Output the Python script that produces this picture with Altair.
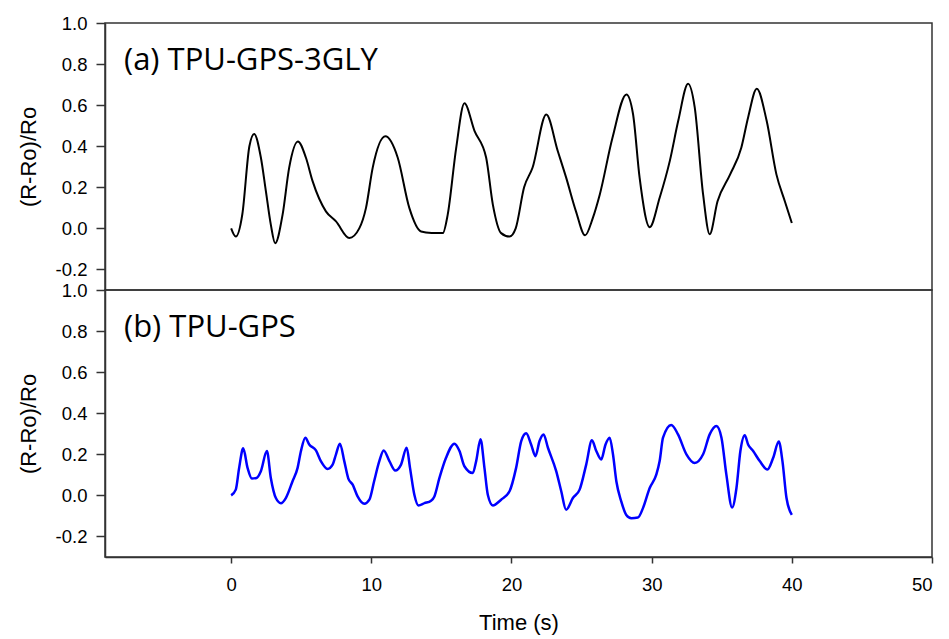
import altair as alt
import pandas as pd

# ---- data ----
panel_labels = ["(a) TPU-GPS-3GLY", "(b) TPU-GPS"]

t_a = [0.0, 0.33, 0.8, 1.3, 1.64, 2.12, 2.48, 2.83, 3.14, 3.67, 4.14, 4.76, 5.33, 5.81, 6.76,
       7.48, 8.43, 9.14, 9.62, 10.1, 11.0, 11.88, 12.71, 13.55, 14.3, 15.1, 15.45, 16.05, 16.64,
       17.36, 18.19, 18.67, 19.26, 19.86, 20.3, 20.9, 21.5, 22.48, 23.3, 23.9, 24.6, 25.25, 25.8,
       26.3, 27.2, 28.2, 28.67, 29.14, 29.86, 30.57, 31.3, 31.9, 32.6, 33.07, 33.67, 34.14, 34.7,
       35.6, 36.4, 36.88, 37.5, 38.2, 38.9, 39.5, 40.0]
r_a = [0.0, -0.04, 0.07, 0.40, 0.46, 0.345, 0.18, 0.018, -0.072, 0.067, 0.296, 0.423, 0.345, 0.23,
       0.083, 0.034, -0.047, 0.0, 0.1, 0.296, 0.448, 0.345, 0.1, -0.015, -0.022, -0.023, 0.067,
       0.39, 0.609, 0.475, 0.345, 0.116, -0.023, -0.04, 0.0, 0.2, 0.295, 0.554, 0.377, 0.247,
       0.083, -0.034, 0.05, 0.165, 0.44, 0.652, 0.557, 0.247, 0.006, 0.149, 0.33, 0.525, 0.704,
       0.59, 0.165, -0.028, 0.132, 0.263, 0.394, 0.54, 0.68, 0.525, 0.263, 0.132, 0.026]

t_b = [0.0, 0.33, 0.57, 0.86, 1.17, 1.48, 1.81, 2.12, 2.55, 2.83,
       3.19, 3.55, 3.9, 4.38, 4.74, 4.98, 5.29, 5.57, 6.05, 6.4,
       6.88, 7.24, 7.48, 7.76, 8.07, 8.36, 8.67, 9.02, 9.5, 9.86,
       10.2, 10.57, 10.88, 11.29, 11.71, 12.12, 12.52, 12.76, 13.07, 13.36,
       13.79, 14.26, 14.5, 14.86, 15.33, 15.93, 16.29, 16.64, 17.24, 17.48,
       17.79, 18.07, 18.31, 18.67, 19.26, 19.86, 20.33, 20.7, 21.05, 21.4,
       21.71, 22.0, 22.29, 22.6, 23.19, 23.55, 23.9, 24.38, 24.86, 25.33,
       25.74, 26.05, 26.4, 26.71, 27.0, 27.24, 27.48, 27.83, 28.19, 28.55,
       29.02, 29.38, 29.86, 30.33, 30.57, 30.81, 31.4, 31.88, 32.48, 33.07,
       33.67, 34.14, 34.62, 34.98, 35.33, 35.74, 36.05, 36.33, 36.64, 36.88,
       37.24, 37.71, 38.26, 38.67, 39.07, 39.33, 39.62, 40.0]
r_b = [0.0, 0.028, 0.134, 0.229, 0.134, 0.082, 0.085, 0.118, 0.216, 0.085,
       -0.013, -0.038, -0.013, 0.069, 0.134, 0.216, 0.281, 0.248, 0.219, 0.167,
       0.129, 0.15, 0.2, 0.252, 0.167, 0.082, 0.052, -0.005, -0.041, -0.021,
       0.069, 0.167, 0.219, 0.167, 0.121, 0.15, 0.232, 0.134, 0.003, -0.049,
       -0.038, -0.026, -0.005, 0.085, 0.183, 0.252, 0.216, 0.142, 0.109, 0.167,
       0.273, 0.134, 0.003, -0.049, -0.021, 0.02, 0.134, 0.265, 0.302, 0.248,
       0.191, 0.265, 0.297, 0.232, 0.118, 0.02, -0.07, -0.013, 0.028, 0.15,
       0.268, 0.216, 0.175, 0.248, 0.281, 0.2, 0.069, -0.029, -0.095, -0.111,
       -0.108, -0.062, 0.036, 0.101, 0.167, 0.281, 0.343, 0.297, 0.2, 0.158,
       0.2, 0.297, 0.338, 0.281, 0.101, -0.059, 0.036, 0.216, 0.293, 0.248,
       0.216, 0.167, 0.126, 0.183, 0.262, 0.167, -0.013, -0.095]

x_ticks = [0, 10, 20, 30, 40, 50]
y_ticks = [-0.2, 0.0, 0.2, 0.4, 0.6, 0.8, 1.0]
x_domain = [-9, 50]
y_domain = [-0.3, 1.0]

df_a = pd.DataFrame({"t": t_a, "r": r_a})
df_b = pd.DataFrame({"t": t_b, "r": r_b})

W = 827
H_TOP = 267
H_BOT = 267

x_scale = alt.Scale(domain=x_domain, nice=False, zero=False)
y_scale = alt.Scale(domain=y_domain, nice=False, zero=False)

Y_LABEL_EXPR = ("datum.value < 0 ? '-' + format(-datum.value, '.1f') "
                ": format(datum.value, '.1f')")


def y_axis():
    return alt.Axis(values=y_ticks, labelExpr=Y_LABEL_EXPR, title="(R-Ro)/Ro", grid=False,
                    tickSize=9, labelPadding=9, titlePadding=15)


def panel(df, color, label, width_px, height, show_x):
    if show_x:
        xenc = alt.X("t:Q", scale=x_scale,
                     axis=alt.Axis(values=x_ticks, format="d", title="Time (s)", grid=False,
                                   tickSize=6, labelPadding=12, titlePadding=19))
    else:
        xenc = alt.X("t:Q", scale=x_scale, axis=None)
    line = alt.Chart(df).mark_line(color=color, strokeWidth=width_px,
                                   interpolate="monotone").encode(
        x=xenc,
        y=alt.Y("r:Q", scale=y_scale, axis=y_axis()),
    )
    txt = alt.Chart(pd.DataFrame({"label": [label]})).mark_text(
        align="left", baseline="alphabetic", font="Open Sans", fontSize=31, color="#000000"
    ).encode(x=alt.value(19), y=alt.value(47), text="label:N")
    return alt.layer(line, txt).properties(width=W, height=height)


top = panel(df_a, "#000000", panel_labels[0], 2, H_TOP, False)
bottom = panel(df_b, "#0000ff", panel_labels[1], 2.5, H_BOT, True)

chart = alt.vconcat(top, bottom, spacing=0, bounds="flush").properties(
    padding={"left": 8, "top": 5, "right": 4, "bottom": 0}
).configure_view(
    stroke="#333333", strokeWidth=1.5
).configure_axis(
    domainColor="#333333", domainWidth=1.5, tickColor="#333333", tickWidth=1.5,
    labelFont="Liberation Sans", labelFontSize=18.5, labelColor="#000000",
    titleFont="Liberation Sans", titleFontSize=22, titleFontWeight="normal", titleColor="#000000",
)

chart.save("out.html", embed_options={"renderer": "svg", "actions": False})
